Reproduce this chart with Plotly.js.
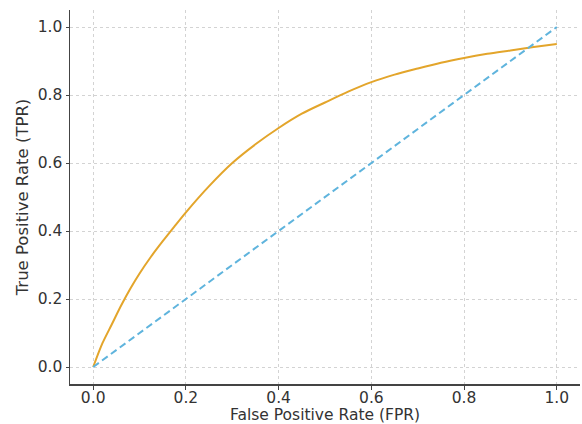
<!DOCTYPE html>
<html>
<head>
<meta charset="utf-8">
<script src="https://cdn.plot.ly/plotly-3.0.1.min.js"></script>
<style>html,body{margin:0;padding:0;background:#fff;}#chart{width:582px;height:424px;}</style>
</head>
<body>
<div id="chart"></div>
<script>
const fpr = [0, 0.02, 0.04, 0.06, 0.08, 0.1, 0.125, 0.15, 0.175, 0.2, 0.25, 0.3, 0.35, 0.4, 0.45, 0.5, 0.55, 0.6, 0.65, 0.7, 0.75, 0.8, 0.85, 0.9, 0.95, 1.0];
const tpr = [0, 0.07, 0.125, 0.18, 0.23, 0.275, 0.325, 0.37, 0.413, 0.455, 0.532, 0.6, 0.655, 0.703, 0.745, 0.778, 0.81, 0.838, 0.86, 0.878, 0.895, 0.909, 0.921, 0.931, 0.941, 0.95];
const diagX = [0, 1];
const diagY = [0, 1];
const tickVals = [0, 0.2, 0.4, 0.6, 0.8, 1.0];
const tickText = ["0.0", "0.2", "0.4", "0.6", "0.8", "1.0"];

const traces = [
  {x: fpr, y: tpr, mode: 'lines', line: {color: '#e3a52b', width: 2, shape: 'spline', smoothing: 0.8}, hoverinfo: 'skip'},
  {x: diagX, y: diagY, mode: 'lines', line: {color: '#5fb4dd', width: 2, dash: '7px,4px'}, hoverinfo: 'skip'}
];
const axisCommon = {
  range: [-0.05, 1.05],
  tickvals: tickVals,
  ticktext: tickText,
  showgrid: true,
  gridcolor: '#d3d3d3',
  griddash: 'dot',
  gridwidth: 1,
  zeroline: false,
  showline: true,
  linecolor: '#444',
  linewidth: 1.5,
  ticks: 'outside',
  ticklen: 4,
  tickcolor: '#444',
  tickfont: {family: 'DejaVu Sans', size: 15.5, color: '#333'}
};
const layout = {
  width: 582, height: 424,
  margin: {l: 70, r: 2, t: 10, b: 40},
  paper_bgcolor: '#fff', plot_bgcolor: '#fff',
  showlegend: false,
  xaxis: Object.assign({}, axisCommon, {ticklabelstandoff: -5, title: {text: 'False Positive Rate (FPR)', font: {family: 'DejaVu Sans', size: 15.5, color: '#333'}, standoff: 0}}),
  yaxis: Object.assign({}, axisCommon, {ticklen: 3, title: {text: 'True Positive Rate (TPR)', font: {family: 'DejaVu Sans', size: 16.5, color: '#333'}, standoff: 5}})
};
Plotly.newPlot('chart', traces, layout, {staticPlot: true, displayModeBar: false});
</script>
</body>
</html>
